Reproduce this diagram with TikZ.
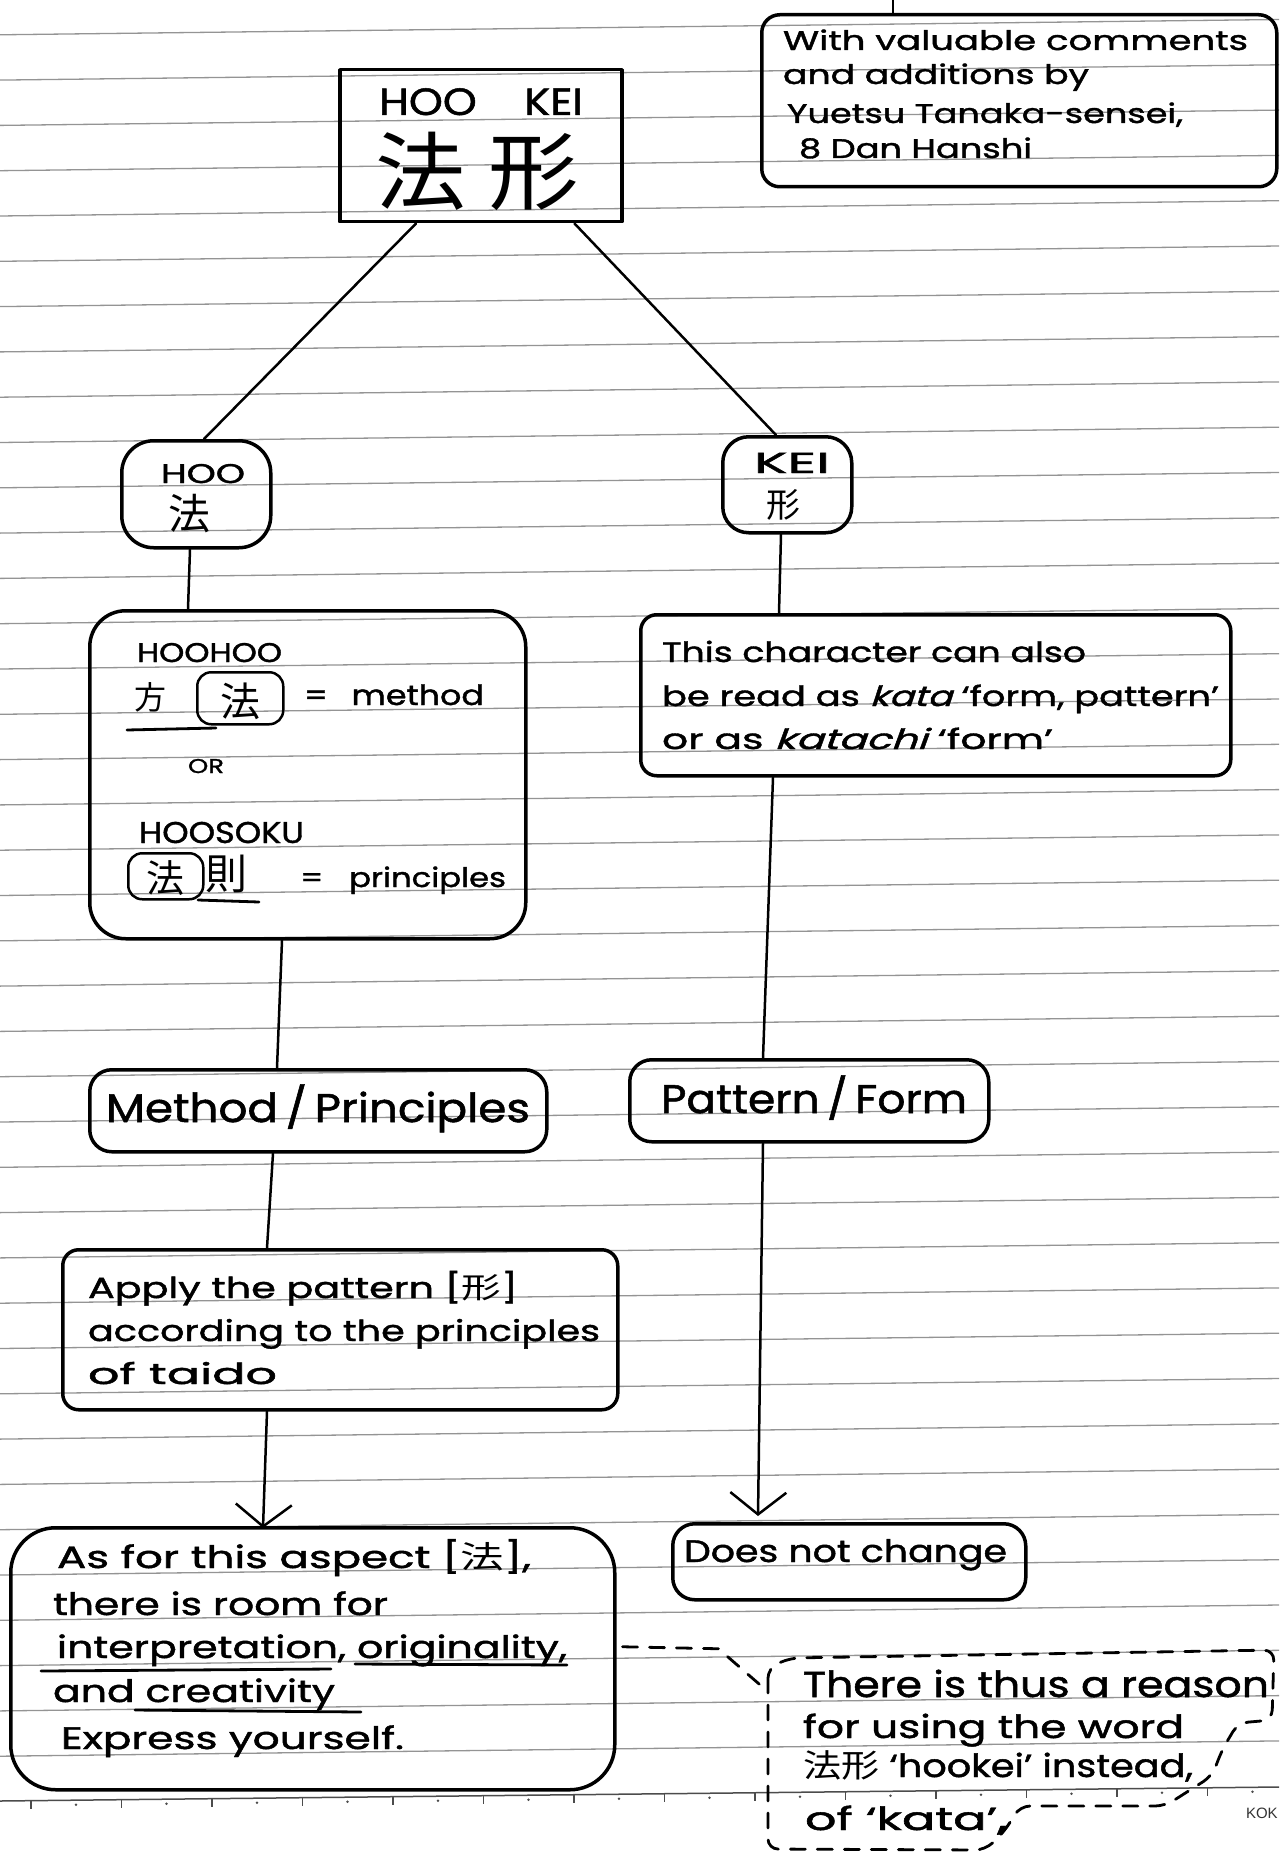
\documentclass[tikz,border=0pt]{standalone}
\usepackage{graphicx}
\usepackage{fontspec}
\setmainfont[FakeBold=1.3]{Poppins}
\newfontfamily\cjk{Noto Sans CJK JP}
\newfontfamily\slfont[FakeSlant=0.25,FakeBold=1.3]{Poppins}
\newfontfamily\kokfont{Liberation Sans}
\usetikzlibrary{arrows.meta,calc}
% one handwritten line: target width (pt), font size (pt), text
\newcommand\hw[3]{\resizebox{#1pt}{\height}{\fontsize{#2}{#2}\selectfont #3}}

\begin{document}
\begin{tikzpicture}[x=1pt,y=-1pt,
  box/.style={draw, line width=3.5pt, rounded corners=#1, anchor=north west,
              inner sep=0pt, line join=round},
  box/.default=20pt,
  kbox/.style={draw, line width=2.5pt, rounded corners=14pt, anchor=north west, inner sep=0pt},
  wire/.style={line width=2.5pt, line cap=round},
  arr/.style={wire, -{Straight Barb[length=22pt,width=56pt,line width=2.5pt]}},
  dashline/.style={line width=2.8pt, line cap=round, dash pattern=on 15pt off 12pt},
  uline/.style={line width=2.8pt, line cap=round},
  txt/.style={anchor=base west, inner sep=0pt, outer sep=0pt},
  ruling/.style={black!42, line width=1.3pt},
]
\useasboundingbox (0,0) rectangle (1279,1859);
\fill[white] (0,0) rectangle (1279,1859);

% ---- ruled paper ----
\foreach \k in {0,...,38} {
  \draw[ruling] (0,{34.8+45.3*\k}) -- (1279,{19.5+45.3*\k});
}
\draw[black!70, line width=1.5pt] (0,1801) -- (1279,1787);
\foreach \i in {0,...,13} {
  \pgfmathsetmacro\tx{31+90.5*\i}
  \pgfmathsetmacro\ty{1801-0.010946*\tx}
  \draw[black!70, line width=1.3pt] (\tx,\ty) -- (\tx,\ty+8);
  \fill[black!70] (\tx+45,\ty+4) circle[radius=1.4pt];
}
\node[txt, font=\kokfont\fontsize{15}{15}\selectfont, text=black!80] (kok) at (1246,1818) {KOK};

% ---- boxes ----
\node[box=0pt,  minimum width=282pt, minimum height=152pt] (hookei) at (338,68) {};
\node[box=18pt, minimum width=515pt, minimum height=172pt] (credit) at (760,13) {};
\node[box=32pt, minimum width=149pt, minimum height=107pt] (hoo) at (120,439) {};
\node[box=26pt, minimum width=129pt, minimum height=96pt] (kei) at (721,435) {};
\node[box=36pt, minimum width=436pt, minimum height=328pt] (hoohoo) at (88,609) {};
\node[box=16pt, minimum width=590pt, minimum height=161pt] (kata) at (639,613) {};
\node[box=22pt, minimum width=457pt, minimum height=82pt] (method) at (88,1068) {};
\node[box=22pt, minimum width=359pt, minimum height=82pt] (pattern) at (628,1058) {};
\node[box=16pt, minimum width=555pt, minimum height=160pt] (apply) at (61,1248) {};
\node[box=45pt, minimum width=604pt, minimum height=262pt] (express) at (9,1526) {};
\node[box=22pt, minimum width=353pt, minimum height=76pt] (nochange) at (671,1522) {};

% ---- credit ----
\node[txt] (c1) at (783,50)  {\hw{465}{27}{With valuable comments}};
\node[txt] (c2) at (783,84)  {\hw{306}{27}{and additions by}};
\node[txt] (c3) at (787,123) {\hw{396}{27}{Yuetsu Tanaka-sensei,}};
\node[txt] (c4) at (799,158) {\hw{233}{27}{8 Dan Hanshi}};

% ---- title ----
\node[txt] (t1) at (379,115) {\hw{204}{38}{HOO\hspace{1.1em}KEI}};
\node[txt] (t2) at (375,204) {\hw{204}{85}{\cjk 法\hspace{0.25em}形}};

% ---- HOO ----
\node[txt] (h1) at (161,483) {\hw{84}{27}{HOO}};
\node[txt, font=\cjk\fontsize{42}{42}\selectfont] (h2) at (168,529) {法};

% ---- KEI ----
\node[txt] (k0) at (754,473) {\hw{76}{29}{KEI}};
\node[txt, font=\cjk\fontsize{34}{34}\selectfont] (k00) at (766,517) {形};

% ---- HOOHOO / HOOSOKU ----
\node[txt] (m1) at (137,662) {\hw{145}{27}{HOOHOO}};
\node[txt, font=\cjk\fontsize{32}{32}\selectfont] (m2) at (134,709) {方};
\node[kbox, minimum width=86pt, minimum height=52pt] (fa1) at (196,671) {};
\node[font=\cjk\fontsize{40}{40}\selectfont, inner sep=0pt] (fa1c) at ($(fa1.center)+(0,3)$) {法};
\node[txt] (m3) at (304,705) {\hw{180}{28}{=\hspace{0.7em}method}};
\draw[uline] (127,730) -- (216,728);
\node[txt] (m4) at (188,773) {\hw{36}{20}{OR}};
\node[txt] (m5) at (139,843) {\hw{165}{30}{HOOSOKU}};
\node[kbox, minimum width=75pt, minimum height=46pt] (fa2) at (127,852) {};
\node[font=\cjk\fontsize{38}{38}\selectfont, inner sep=0pt] (fa2c) at ($(fa2.center)+(0,2)$) {法};
\node[txt, font=\cjk\fontsize{42}{42}\selectfont] (m6) at (205,889) {則};
\draw[uline] (198,900) -- (259,902);
\node[txt] (m7) at (300,887) {\hw{206}{27}{=\hspace{0.8em}principles}};

% ---- kata / katachi ----
\node[txt] (k1) at (662,662) {\hw{424}{28}{This character can also}};
\node[txt] (k2) at (662,706) {\hw{557}{28}{be read as {\slfont kata} ‘form, pattern’}};
\node[txt] (k3) at (662,749) {\hw{391}{28}{or as {\slfont katachi} ‘form’}};

% ---- method / pattern ----
\node[txt] (p1) at (106,1122) {\hw{424}{40}{Method\,/\,Principles}};
\node[txt] (p2) at (661,1113) {\hw{306}{40}{Pattern\,/\,Form}};

% ---- apply ----
\node[txt] (a1) at (88,1298) {\hw{430}{29}{Apply the pattern [{\cjk 形}]}};
\node[txt] (a2) at (88,1341) {\hw{512}{29}{according to the principles}};
\node[txt] (a3) at (88,1384) {\hw{189}{29}{of taido}};

% ---- express ----
\node[txt] (e1) at (57,1568) {\hw{474}{31}{As for this aspect [{\cjk 法}],}};
\node[txt] (e2) at (53,1615) {\hw{335}{31}{there is room for}};
\node[txt] (e3) at (57,1658) {\hw{510}{31}{interpretation, originality,}};
\node[txt] (e4) at (53,1702) {\hw{282}{31}{and creativity}};
\node[txt] (e5) at (61,1749) {\hw{343}{31}{Express yourself.}};
\draw[uline] (41,1671) -- (331,1669);
\draw[uline] (355,1664) -- (567,1665);
\draw[uline] (135,1710) -- (361,1712);

% ---- does not change ----
\node[txt] (n1) at (684,1562) {\hw{323}{31}{Does not change}};

% ---- reason ----
\node[txt] (r1) at (803,1697) {\hw{466}{36}{There is thus a reason}};
\node[txt] (r2) at (803,1738) {\hw{381}{32}{for using the word}};
\node[txt] (r3) at (803,1777) {\hw{390}{32}{{\cjk 法形} ‘hookei’ instead,}};
\node[txt] (r4) at (805,1830) {\hw{202}{32}{of ‘kata’,}};
\draw[dashline, rounded corners=10pt]
  (768,1668) -- (768,1849) -- (985,1850) -- (1004,1832) -- (1020,1806)
  -- (1165,1806) -- (1212,1776) -- (1222,1750) -- (1238,1723) -- (1272,1720)
  -- (1274,1650) -- (790,1658) -- cycle;
\coordinate (reasonport) at (766,1690);

% ---- connectors ----
\coordinate (pagetop) at (893,0);
\draw[wire] ($(credit.north west)+(133,0)$) -- (pagetop);
\draw[wire] ($(hookei.south west)+(78,0)$) -- ($(hoo.north west)+(84,0)$);
\draw[wire] ($(hookei.south east)+(-49,0)$) -- ($(kei.north west)+(55,0)$);
\draw[wire] ($(hoo.south west)+(70,0)$) -- ($(hoohoo.north west)+(100,0)$);
\draw[wire] ($(kei.south west)+(60,0)$) -- ($(kata.north west)+(140,0)$);
\draw[wire] ($(hoohoo.south west)+(194,0)$) -- ($(method.north west)+(189,0)$);
\draw[wire] ($(kata.south west)+(134,0)$) -- ($(pattern.north west)+(135,0)$);
\draw[wire] ($(method.south west)+(185,0)$) -- ($(apply.north west)+(206,0)$);
\draw[arr] ($(apply.south west)+(206,0)$) -- ($(express.north west)+(254,2)$);
\draw[arr] ($(pattern.south west)+(135,0)$) -- ($(nochange.north west)+(87,-6)$);
\draw[dashline] ($(express.east)+(6,-12)$) -- ++(96,2) -- (reasonport);
\end{tikzpicture}
\end{document}
